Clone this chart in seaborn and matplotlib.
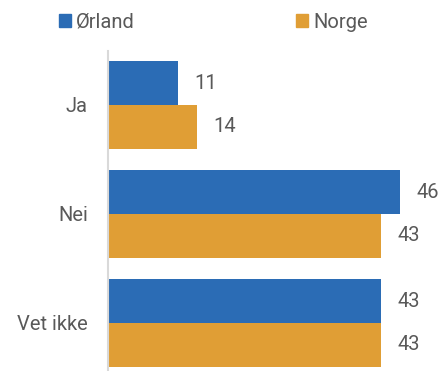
import pandas as pd
import seaborn as sns
import matplotlib.pyplot as plt

categories = ["Ja", "Nei", "Vet ikke"]
orland = [11, 46, 43]
norge = [14, 43, 43]
series = ["Ørland", "Norge"]
colors = ["#2B6CB5", "#E09E35"]

df = pd.DataFrame({
    "svar": categories * 2,
    "verdi": orland + norge,
    "sted": [series[0]] * 3 + [series[1]] * 3,
})

sns.set_style("white")
plt.rcParams["font.family"] = ["Roboto", "DejaVu Sans"]
text_color = "#595959"
fs = 14.5

fig = plt.figure(figsize=(4.45, 3.71), dpi=100)
ax = fig.add_axes([108 / 445, 0, 1 - 108 / 445, 320 / 371])

sns.barplot(data=df, y="svar", x="verdi", hue="sted", palette=colors,
            orient="h", width=0.8, saturation=1, ax=ax, legend=False, linewidth=0)

ax.set_xlim(0, 53.0)
ax.set_ylim(-0.495 + 320 / 109, -0.495)

# padding in points (~16 px gap like the reference)
for cont in ax.containers:
    ax.bar_label(cont, padding=11.5, fontsize=fs, color=text_color)

for s in ["top", "right", "bottom"]:
    ax.spines[s].set_visible(False)
ax.spines["left"].set_color("#d9d9d9")
ax.spines["left"].set_linewidth(1.5)
ax.set_xticks([])
ax.set_xlabel("")
ax.set_ylabel("")
ax.tick_params(axis="y", length=0, pad=14.5, labelsize=fs, labelcolor=text_color)

handles = [plt.Rectangle((0, 0), 1, 1, color=c) for c in colors]
fig.legend(handles, series, loc="center left", bbox_to_anchor=(59 / 445, 1 - 22 / 371),
           ncol=2, frameon=False, fontsize=fs, labelcolor=text_color,
           handlelength=0.6, handleheight=0.6, handletextpad=0.25,
           columnspacing=8.0, borderpad=0, borderaxespad=0)

plt.savefig("out.png", dpi=100)
